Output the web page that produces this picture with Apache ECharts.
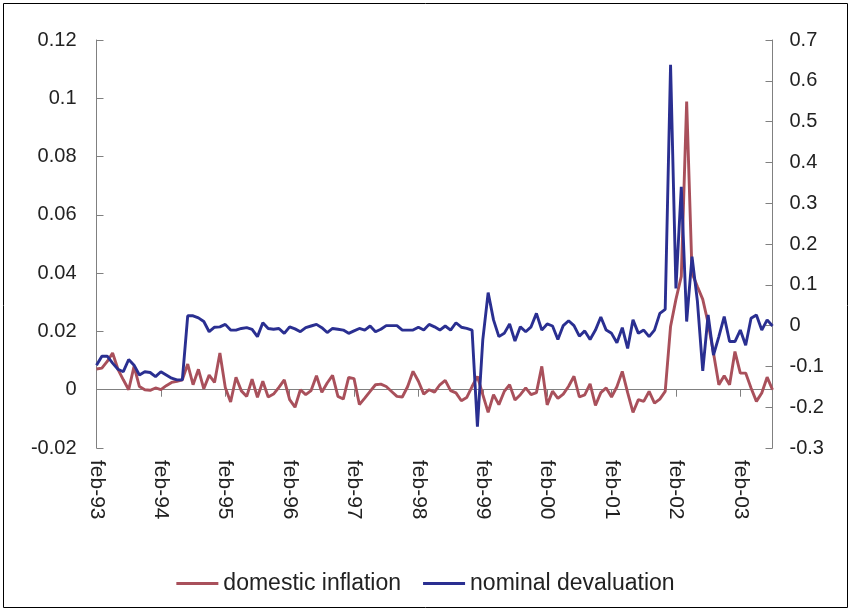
<!DOCTYPE html>
<html>
<head>
<meta charset="utf-8">
<script src="https://cdn.jsdelivr.net/npm/echarts@6/dist/echarts.min.js"></script>
<style>
html,body{margin:0;padding:0;background:#fff;}
#chart{width:851px;height:612px;}
</style>
</head>
<body>
<div id="chart"></div>
<script>
// Monthly categories feb-93 .. aug-03
const monthNames = ['jan','feb','mar','apr','may','jun','jul','aug','sep','oct','nov','dec'];
const years = ['93','94','95','96','97','98','99','00','01','02','03'];
const categories = [];
years.forEach((y, yi) => {
  monthNames.forEach((m, mi) => {
    if (yi === 0 && mi < 1) return;
    if (yi === years.length - 1 && mi > 7) return;
    categories.push(m + '-' + y);
  });
});

const leftTicks = { min: -0.02, max: 0.12, interval: 0.02 };
const rightTicks = { min: -0.3, max: 0.7, interval: 0.1 };

const domesticInflation = [
  0.0071, 0.0074, 0.0097, 0.0126, 0.0070, 0.0034, 0.0000, 0.0080, 0.0011, 0.0000,
  -0.0002, 0.0006, 0.0000, 0.0014, 0.0025, 0.0029, 0.0034, 0.0088, 0.0017, 0.0070,
  0.0003, 0.0050, 0.0025, 0.0126, 0.0008, -0.0042, 0.0043, -0.0004, -0.0023, 0.0036,
  -0.0026, 0.0029, -0.0025, -0.0015, 0.0008, 0.0034, -0.0034, -0.0060, 0.0000, -0.0017,
  -0.0003, 0.0048, -0.0009, 0.0023, 0.0049, -0.0023, -0.0032, 0.0042, 0.0038, -0.0051,
  -0.0029, -0.0006, 0.0017, 0.0019, 0.0011, -0.0006, -0.0023, -0.0025, 0.0011, 0.0063,
  0.0029, -0.0015, 0.0000, -0.0008, 0.0017, 0.0032, -0.0003, -0.0011, -0.0038, -0.0027,
  0.0011, 0.0046, -0.0017, -0.0078, -0.0017, -0.0051, -0.0006, 0.0017, -0.0035, -0.0017,
  0.0006, -0.0017, -0.0010, 0.0080, -0.0052, -0.0005, -0.0030, -0.0015, 0.0012, 0.0046,
  -0.0025, -0.0018, 0.0020, -0.0054, -0.0010, 0.0006, -0.0025, 0.0010, 0.0063, -0.0010,
  -0.0078, -0.0034, -0.0040, -0.0006, -0.0046, -0.0032, -0.0006, 0.0217, 0.0310, 0.0389,
  0.0989, 0.0400, 0.0354, 0.0310, 0.0229, 0.0126, 0.0017, 0.0048, 0.0017, 0.0131,
  0.0057, 0.0057, 0.0006, -0.0040, -0.0011, 0.0043, 0.0000
];

const nominalDevaluation = [
  -0.097, -0.075, -0.075, -0.092, -0.107, -0.113, -0.083, -0.097, -0.121, -0.113,
  -0.115, -0.125, -0.113, -0.121, -0.129, -0.133, -0.133, 0.024, 0.024, 0.019,
  0.010, -0.015, -0.004, -0.003, 0.003, -0.011, -0.011, -0.007, -0.005, -0.009,
  -0.027, 0.007, -0.007, -0.009, -0.007, -0.019, -0.003, -0.008, -0.015, -0.005,
  -0.001, 0.003, -0.005, -0.017, -0.007, -0.009, -0.011, -0.019, -0.013, -0.007,
  -0.011, -0.001, -0.015, -0.009, 0.000, 0.000, 0.000, -0.011, -0.011, -0.011,
  -0.004, -0.011, 0.003, -0.003, -0.011, -0.001, -0.011, 0.007, -0.004, -0.007,
  -0.011, -0.248, -0.035, 0.081, 0.014, -0.027, -0.019, 0.004, -0.038, -0.003,
  -0.015, -0.003, 0.030, -0.011, 0.004, -0.001, -0.034, 0.000, 0.012, 0.000,
  -0.026, -0.013, -0.034, -0.011, 0.021, -0.011, -0.019, -0.042, -0.005, -0.056,
  0.014, -0.019, -0.011, -0.027, -0.011, 0.030, 0.040, 0.639, 0.091, 0.340,
  0.010, 0.169, 0.060, -0.111, 0.026, -0.072, -0.027, 0.022, -0.039, -0.039,
  -0.011, -0.048, 0.018, 0.026, -0.011, 0.014, -0.001
];

const seriesNames = ['domestic inflation', 'nominal devaluation'];
const seriesColors = ['#A9505B', '#2A2F91'];

const chart = echarts.init(document.getElementById('chart'), null, { renderer: 'canvas' });
const fontFamily = '"Liberation Sans", Arial, sans-serif';
const fmt = v => String(+(+v).toFixed(3));

const option = {
  animation: false,
  backgroundColor: '#fff',
  textStyle: { fontFamily: fontFamily },
  graphic: [{
    type: 'rect',
    shape: { x: 3.5, y: 3.5, width: 844, height: 604 },
    style: { fill: 'none', stroke: '#000', lineWidth: 1 },
    silent: true
  }],
  grid: { left: 96.5, right: 78.5, top: 40, bottom: 164, containLabel: false },
  legend: {
    bottom: 12,
    left: 'center',
    icon: 'rect',
    itemWidth: 42,
    itemHeight: 3,
    itemGap: 22,
    textStyle: { fontSize: 23, color: '#222', fontFamily: fontFamily },
    data: seriesNames
  },
  xAxis: {
    type: 'category',
    data: categories,
    boundaryGap: false,
    axisLine: { onZero: true, onZeroAxisIndex: 0, lineStyle: { color: '#808080', width: 1 } },
    axisTick: { show: true, interval: 11, length: 7, inside: false, lineStyle: { color: '#808080' } },
    axisLabel: {
      interval: 11,
      rotate: -90,
      margin: 12,
      fontSize: 21,
      color: '#222',
      fontFamily: fontFamily
    },
    splitLine: { show: false }
  },
  yAxis: [{
    type: 'value',
    position: 'left',
    min: leftTicks.min, max: leftTicks.max, interval: leftTicks.interval,
    axisLine: { show: true, lineStyle: { color: '#808080', width: 1 } },
    axisTick: { show: true, inside: true, length: 7, lineStyle: { color: '#808080' } },
    axisLabel: { formatter: fmt, fontSize: 20, color: '#222', margin: 20, fontFamily: fontFamily },
    splitLine: { show: false }
  }, {
    type: 'value',
    position: 'right',
    min: rightTicks.min, max: rightTicks.max, interval: rightTicks.interval,
    axisLine: { show: true, lineStyle: { color: '#808080', width: 1 } },
    axisTick: { show: true, inside: true, length: 7, lineStyle: { color: '#808080' } },
    axisLabel: { formatter: fmt, fontSize: 20, color: '#222', margin: 17, fontFamily: fontFamily },
    splitLine: { show: false }
  }],
  series: [{
    name: seriesNames[0],
    type: 'line',
    yAxisIndex: 0,
    data: domesticInflation,
    symbol: 'none',
    lineStyle: { color: seriesColors[0], width: 2.9 },
    itemStyle: { color: seriesColors[0] },
    z: 2
  }, {
    name: seriesNames[1],
    type: 'line',
    yAxisIndex: 1,
    data: nominalDevaluation,
    symbol: 'none',
    lineStyle: { color: seriesColors[1], width: 2.9 },
    itemStyle: { color: seriesColors[1] },
    z: 3
  }]
};
chart.setOption(option);
</script>
</body>
</html>
